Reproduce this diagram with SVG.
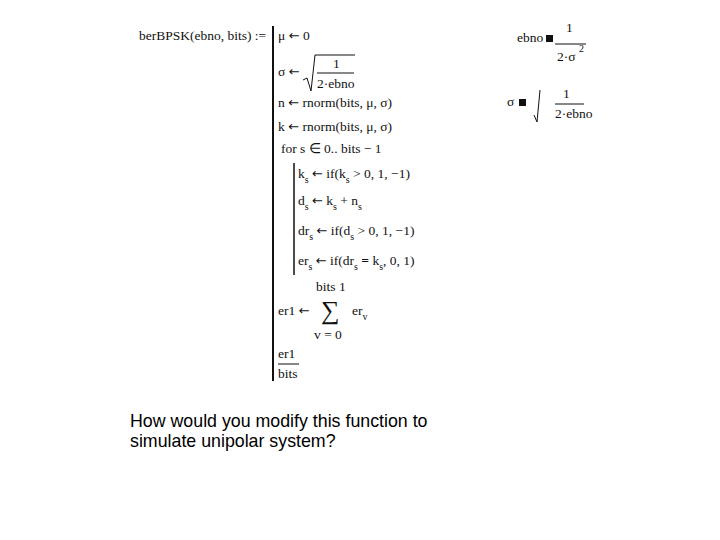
<svg xmlns="http://www.w3.org/2000/svg" width="720" height="540" viewBox="0 0 720 540">
<style>
text{font-family:"Liberation Serif","Times New Roman",serif;font-size:13.5px;fill:#111}
.s{font-size:10px}
.a{font-family:"DejaVu Sans",sans-serif;font-size:13px}
.q{font-family:"Liberation Sans",Arial,sans-serif;font-size:17.8px;fill:#000}
line,path{stroke:#111;fill:none}
</style>
<rect width="720" height="540" fill="#fff"/>
<g id="def">
<text x="139" y="40">berBPSK(ebno, bits) :=</text>
<line x1="273" y1="26" x2="273" y2="381" stroke-width="2"/>
<text x="278" y="40">μ <tspan class="a">←</tspan> 0</text>
<text x="278" y="76">σ <tspan class="a">←</tspan></text>
<path d="M303 80 L307 78 L311 91 L315 55 L355 55" stroke-width="1"/>
<text x="333" y="68">1</text>
<line x1="317" y1="73" x2="354" y2="73"/>
<text x="317" y="88">2·ebno</text>
<text x="278" y="107">n <tspan class="a">←</tspan> rnorm(bits, μ, σ)</text>
<text x="278" y="131">k <tspan class="a">←</tspan> rnorm(bits, μ, σ)</text>
<text x="281" y="153">for   s ∈ 0.. bits − 1</text>
<line x1="294" y1="163" x2="294" y2="275" stroke-width="1.5"/>
<text x="298" y="178">k<tspan class="s" dy="5">s</tspan><tspan dy="-5"> </tspan><tspan class="a">←</tspan> if(k<tspan class="s" dy="5">s</tspan><tspan dy="-5"> &gt; 0, 1, −1)</tspan></text>
<text x="298" y="205">d<tspan class="s" dy="5">s</tspan><tspan dy="-5"> </tspan><tspan class="a">←</tspan> k<tspan class="s" dy="5">s</tspan><tspan dy="-5"> + n</tspan><tspan class="s" dy="5">s</tspan></text>
<text x="298" y="235">dr<tspan class="s" dy="5">s</tspan><tspan dy="-5"> </tspan><tspan class="a">←</tspan> if(d<tspan class="s" dy="5">s</tspan><tspan dy="-5"> &gt; 0, 1, −1)</tspan></text>
<text x="298" y="265">er<tspan class="s" dy="5">s</tspan><tspan dy="-5"> </tspan><tspan class="a">←</tspan> if(dr<tspan class="s" dy="5">s</tspan><tspan dy="-5" font-weight="bold"> = </tspan><tspan>k</tspan><tspan class="s" dy="5">s</tspan><tspan dy="-5">, 0, 1)</tspan></text>
<text x="316" y="291">bits  1</text>
<text x="278" y="315">er1 <tspan class="a">←</tspan></text>
<text x="321" y="319" style="font-size:26px">∑</text>
<text x="352" y="315">er<tspan class="s" dy="5">v</tspan></text>
<text x="314" y="339">v = 0</text>
<text x="278" y="358">er1</text>
<line x1="278" y1="364" x2="299" y2="364"/>
<text x="278" y="378">bits</text>
</g>
<g id="side">
<text x="517" y="42">ebno</text>
<rect x="546" y="35" width="7" height="7" fill="#111"/>
<text x="566" y="32">1</text>
<line x1="555" y1="44" x2="586" y2="44"/>
<text x="557" y="61">2·σ</text>
<text x="579" y="52" class="s">2</text>
<text x="507" y="106">σ</text>
<rect x="519" y="99" width="7" height="7" fill="#111"/>
<path d="M534 115 L537 122 L540 90" stroke-width="1"/>
<text x="563" y="98">1</text>
<line x1="555" y1="104" x2="584" y2="104"/>
<text x="555" y="118">2·ebno</text>
</g>
<g id="question">
<text class="q" x="130" y="427">How would you modify this function to</text>
<text class="q" x="130" y="447">simulate unipolar system?</text>
</g>
</svg>
